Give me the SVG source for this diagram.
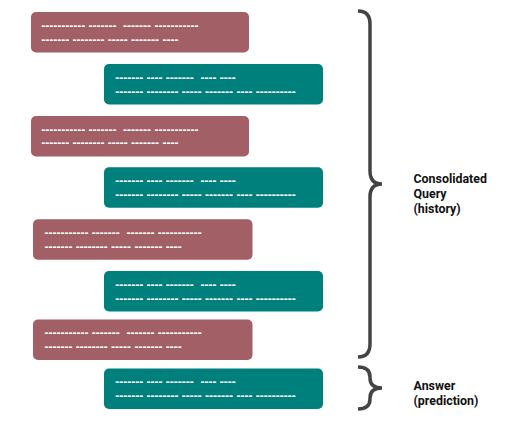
<svg xmlns="http://www.w3.org/2000/svg" width="511" height="432" viewBox="0 0 511 432">
<style>
.q{fill:#A25F66}
.a{fill:#00807D}
.d{font-family:"Liberation Sans",Arial,sans-serif;font-size:12px;font-weight:bold;fill:#ffffff;white-space:pre}
.lbl{font-family:Roboto,"Liberation Sans",sans-serif;font-weight:bold;font-size:12.4px;fill:#111111}
.br{fill:none;stroke:#444444;stroke-width:3.5}
</style>
<rect width="511" height="432" fill="#ffffff"/>
<g id="q1"><rect class="q" x="31" y="12" width="218" height="40.5" rx="5"/>
<text class="d" x="41.2" y="30.2">----------- -------  ------- -----------</text>
<text class="d" x="41.2" y="43.5">------- -------- ----- ------- ----</text></g>
<g id="a1"><rect class="a" x="104" y="64" width="219" height="40.5" rx="5"/>
<text class="d" x="115.2" y="81.8">------- ---- -------  ---- ----</text>
<text class="d" x="115.2" y="95.6">------- -------- ----- ------- ---- ----------</text></g>
<g id="q2"><rect class="q" x="31" y="116" width="218" height="40.5" rx="5"/>
<text class="d" x="41.2" y="133.6">----------- -------  ------- -----------</text>
<text class="d" x="41.2" y="147.4">------- -------- ----- ------- ----</text></g>
<g id="a2"><rect class="a" x="104" y="167.2" width="219" height="40.5" rx="5"/>
<text class="d" x="115.2" y="185">------- ---- -------  ---- ----</text>
<text class="d" x="115.2" y="198.8">------- -------- ----- ------- ---- ----------</text></g>
<g id="q3"><rect class="q" x="33" y="219.3" width="219.5" height="40.5" rx="5"/>
<text class="d" x="44.5" y="237.1">----------- -------  ------- -----------</text>
<text class="d" x="44.5" y="250.9">------- -------- ----- ------- ----</text></g>
<g id="a3"><rect class="a" x="104" y="271" width="219" height="40.5" rx="5"/>
<text class="d" x="115.2" y="288.8">------- ---- -------  ---- ----</text>
<text class="d" x="115.2" y="302.6">------- -------- ----- ------- ---- ----------</text></g>
<g id="q4"><rect class="q" x="33" y="319.5" width="219.5" height="40.5" rx="5"/>
<text class="d" x="44.5" y="337.3">----------- -------  ------- -----------</text>
<text class="d" x="44.5" y="351.1">------- -------- ----- ------- ----</text></g>
<g id="a4"><rect class="a" x="104" y="368.5" width="219" height="40.5" rx="5"/>
<text class="d" x="115.2" y="386.3">------- ---- -------  ---- ----</text>
<text class="d" x="115.2" y="400.1">------- -------- ----- ------- ---- ----------</text></g>
<g id="connectors">
<path class="br" d="M358,11 Q370,11 370,24 V171 Q370,184 382,184 Q370,184 370,197 V344 Q370,357 358,357"/>
<path class="br" d="M358,367 Q370,367 370,377 V378 Q370,388 382,388 Q370,388 370,398 V399 Q370,409 358,409"/>
</g>
<g id="history"><text class="lbl" x="413.5" y="182.5">Consolidated</text>
<text class="lbl" x="413.5" y="197.5">Query</text>
<text class="lbl" x="413.5" y="212.5">(history)</text></g>
<g id="answer"><text class="lbl" x="413.5" y="389.8">Answer</text>
<text class="lbl" x="413.5" y="404.8">(prediction)</text></g>
</svg>
